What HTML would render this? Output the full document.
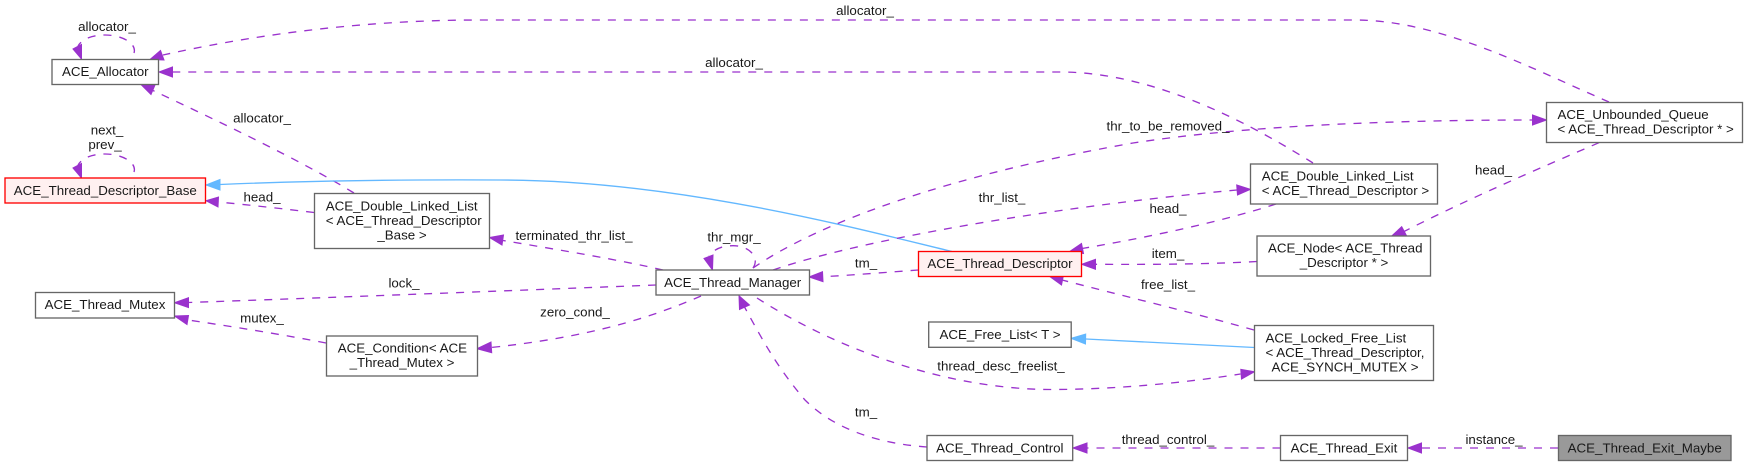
<!DOCTYPE html>
<html><head><meta charset="utf-8"><style>
html,body{margin:0;padding:0;background:#fff}
svg{display:block}
text{font-family:"Liberation Sans",Arial,sans-serif;font-size:13.33px;fill:#191919}
.m{text-anchor:middle}
.b{fill:#fff;stroke:#666;stroke-width:1.33}
.r{fill:#fff0f0;stroke:#f00;stroke-width:1.33}
.g{fill:#999;stroke:#666;stroke-width:1.33}
.e{fill:none;stroke:#9a32cd;stroke-width:1.33;stroke-dasharray:8 8}
.h{fill:none;stroke:#63b8ff;stroke-width:1.33}
.a{fill:#9a32cd;stroke:#9a32cd;stroke-width:1}
.t{fill:#63b8ff;stroke:#63b8ff;stroke-width:1}
</style></head><body>
<svg width="1748" height="466" viewBox="0 0 1748 466" xmlns="http://www.w3.org/2000/svg">
<!-- edges -->
<path class="e" d="M134,53 C137,44 123,35 105,35 C92,35 82,39 78,46"/>
<polygon class="a" points="73,49 81.5,44.5 81.5,59"/>
<path class="e" d="M134,172 C137,163 123,154 105,154 C92,154 82,158 78,165"/>
<polygon class="a" points="73,168 81.5,163.5 81.5,178"/>
<path class="e" d="M1609,102 C1530,68 1440,20 1355,20 L480,20 C350,20 240,38 163,55"/>
<polygon class="a" points="150,59.5 160.5,50.5 164,60"/>
<path class="e" d="M1313,163 C1260,130 1160,72 1060,72 L172,72"/>
<polygon class="a" points="159,72 172.5,67 172.5,77"/>
<path class="e" d="M354,193 C300,160 220,122 153,90.5"/>
<polygon class="a" points="141,84.5 155,85 151,94.5"/>
<path class="e" d="M314,212.5 C285,209 250,205 218,202"/>
<polygon class="a" points="206,200.7 218.5,197 218,207"/>
<path class="h" d="M952,251.5 C870,232 680,180 500,180 C400,179.5 300,181 220,184.5"/>
<polygon class="t" points="206,185 220,179.5 220,190"/>
<path class="e" d="M663,270 C620,260 560,250 503,240.5"/>
<polygon class="a" points="489.5,237.5 503.5,235 502,245"/>
<path class="e" d="M753,268 C760,258 750,245.7 733,245.7 C722,245.7 714,249 709,256"/>
<polygon class="a" points="704,258.5 713,255 712.5,270"/>
<path class="e" d="M656,285 C500,291 320,298 188,302.5"/>
<polygon class="a" points="174.5,302.7 188.5,297.7 188.5,307.5"/>
<path class="e" d="M701,296 C650,318 590,337 491,347.5"/>
<polygon class="a" points="477,348.7 491,342 491.7,352.7"/>
<path class="e" d="M326,343 C285,335 235,327 188,320"/>
<polygon class="a" points="174.5,316 188.5,315.5 187,324.5"/>
<path class="e" d="M753,268 C820,222 950,175 1133,143 C1250,125 1400,120 1532,120"/>
<polygon class="a" points="1546.5,120 1532.5,115 1532.5,125"/>
<path class="e" d="M773,270 C860,240 1050,207 1237,190"/>
<polygon class="a" points="1250.5,189.3 1236.7,185 1237.5,195"/>
<path class="e" d="M918.5,270 C890,272 855,275 822.7,276.7"/>
<polygon class="a" points="809,277 822.5,271.7 823,281.7"/>
<path class="e" d="M1276,204 C1220,222 1150,237 1082,248.5"/>
<polygon class="a" points="1070,251.3 1081.5,243.5 1083.5,253.5"/>
<path class="e" d="M1257,261.5 C1200,264.5 1150,264.5 1095.7,264.3"/>
<polygon class="a" points="1081.5,264.3 1095.5,259.3 1095.5,269.3"/>
<path class="e" d="M1254,330 C1190,312 1120,295 1062,280"/>
<polygon class="a" points="1050,276.7 1063.5,275 1061.5,285"/>
<path class="h" d="M1254.5,347.5 L1085.7,339"/>
<polygon class="t" points="1071,338.3 1085.7,334 1085.5,344"/>
<path class="e" d="M757,298 C830,345 940,389 1050,389.5 C1120,389.5 1190,382 1240.5,374"/>
<polygon class="a" points="1254.5,371.7 1240.8,369.3 1241.5,379"/>
<path class="e" d="M927,447 C870,443 830,425 805,400 C775,365 760,335 744.5,307"/>
<polygon class="a" points="739,295.7 749.5,305 739.5,309.5"/>
<path class="e" d="M1280.5,448 L1086,448"/>
<polygon class="a" points="1073,448 1087,443 1087,453"/>
<path class="e" d="M1558,448 L1421,448"/>
<polygon class="a" points="1408,448 1421.5,443 1421.5,453"/>
<path class="e" d="M1599,142.7 C1540,168 1470,198 1404,231.5"/>
<polygon class="a" points="1391.7,236 1401.7,226.7 1406.7,236"/>
<!-- nodes -->
<rect class="b" x="52" y="59.5" width="106.5" height="25"/>
<text class="m" x="105.3" y="76">ACE_Allocator</text>
<rect class="r" x="5" y="178" width="200.5" height="25"/>
<text class="m" x="105.3" y="195">ACE_Thread_Descriptor_Base</text>
<rect class="b" x="314.5" y="193.5" width="175" height="55"/>
<text x="325.7" y="210.5">ACE_Double_Linked_List</text>
<text x="325.7" y="225">&lt; ACE_Thread_Descriptor</text>
<text class="m" x="402" y="239.5">_Base &gt;</text>
<rect class="b" x="35.5" y="292.5" width="139" height="25.5"/>
<text class="m" x="105" y="309">ACE_Thread_Mutex</text>
<rect class="b" x="326.5" y="336" width="151" height="40"/>
<text x="337.7" y="352.5">ACE_Condition&lt; ACE</text>
<text class="m" x="402" y="367">_Thread_Mutex &gt;</text>
<rect class="b" x="656" y="270" width="153.5" height="25"/>
<text class="m" x="732.7" y="287">ACE_Thread_Manager</text>
<rect class="r" x="918.5" y="251.5" width="163" height="25"/>
<text class="m" x="1000" y="268">ACE_Thread_Descriptor</text>
<rect class="b" x="928.7" y="322" width="142.5" height="25.3"/>
<text class="m" x="1000" y="339">ACE_Free_List&lt; T &gt;</text>
<rect class="b" x="927" y="435.5" width="145.7" height="25"/>
<text class="m" x="999.8" y="452.5">ACE_Thread_Control</text>
<rect class="b" x="1280.5" y="435.5" width="127" height="25"/>
<text class="m" x="1344" y="452.5">ACE_Thread_Exit</text>
<rect class="g" x="1558.5" y="435.5" width="172.5" height="25"/>
<text class="m" x="1644.7" y="452.5">ACE_Thread_Exit_Maybe</text>
<rect class="b" x="1254.5" y="325.5" width="179" height="55"/>
<text x="1265.5" y="342.3">ACE_Locked_Free_List</text>
<text x="1265.5" y="357">&lt; ACE_Thread_Descriptor,</text>
<text class="m" x="1345" y="371.7">ACE_SYNCH_MUTEX &gt;</text>
<rect class="b" x="1250.5" y="164" width="187" height="40"/>
<text x="1261.7" y="180.5">ACE_Double_Linked_List</text>
<text x="1261.7" y="195">&lt; ACE_Thread_Descriptor &gt;</text>
<rect class="b" x="1257" y="236" width="173.5" height="40"/>
<text x="1268" y="252.5">ACE_Node&lt; ACE_Thread</text>
<text class="m" x="1344" y="267">_Descriptor * &gt;</text>
<rect class="b" x="1546.5" y="102.5" width="196" height="40"/>
<text x="1557.5" y="119">ACE_Unbounded_Queue</text>
<text x="1557.5" y="133.5">&lt; ACE_Thread_Descriptor * &gt;</text>
<!-- edge labels -->
<text class="m" x="107" y="31">allocator_</text>
<text class="m" x="107" y="134.5">next_</text>
<text class="m" x="105" y="149">prev_</text>
<text class="m" x="262" y="122.5">allocator_</text>
<text class="m" x="262" y="201.5">head_</text>
<text class="m" x="865" y="15">allocator_</text>
<text class="m" x="734" y="67">allocator_</text>
<text class="m" x="574" y="240">terminated_thr_list_</text>
<text class="m" x="734" y="241.5">thr_mgr_</text>
<text class="m" x="404" y="287.5">lock_</text>
<text class="m" x="575" y="316.5">zero_cond_</text>
<text class="m" x="262" y="322.5">mutex_</text>
<text class="m" x="1168" y="130.5">thr_to_be_removed_</text>
<text class="m" x="1002" y="202">thr_list_</text>
<text class="m" x="866" y="267.5">tm_</text>
<text class="m" x="1168" y="213">head_</text>
<text class="m" x="1168" y="258">item_</text>
<text class="m" x="1168" y="289">free_list_</text>
<text class="m" x="1001" y="370.5">thread_desc_freelist_</text>
<text class="m" x="866" y="416.5">tm_</text>
<text class="m" x="1168" y="444">thread_control_</text>
<text class="m" x="1494" y="444">instance_</text>
<text class="m" x="1493.5" y="174.5">head_</text>
</svg>
</body></html>
